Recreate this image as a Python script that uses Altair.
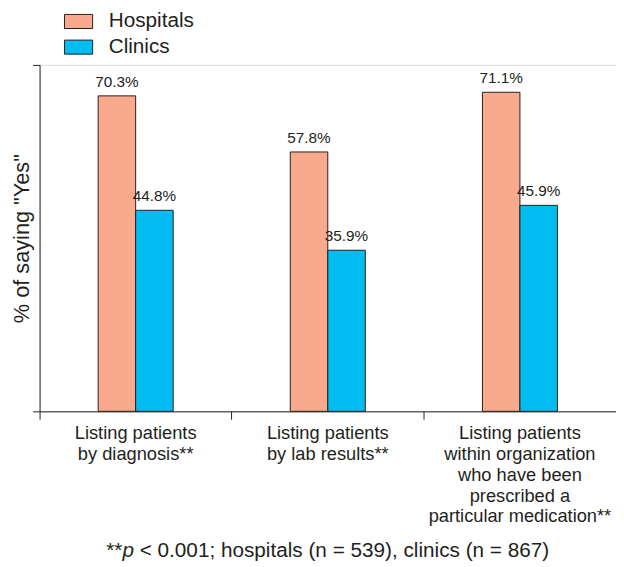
import altair as alt
import pandas as pd

categories = [
    "Listing patients|by diagnosis**",
    "Listing patients|by lab results**",
    "Listing patients|within organization|who have been|prescribed a|particular medication**",
]
series = ["Hospitals", "Clinics"]
hospitals = [70.3, 57.8, 71.1]
clinics = [44.8, 35.9, 45.9]
colors = ["#F9AA8D", "#00BCF1"]
foot_parts = ["**", "p", "< 0.001; hospitals (n = 539), clinics (n = 867)"]

rows = []
for i, c in enumerate(categories):
    rows.append({"cat": c, "group": "Hospitals", "value": hospitals[i]})
    rows.append({"cat": c, "group": "Clinics", "value": clinics[i]})
df = pd.DataFrame(rows)

W, H = 584, 351
YMAX = 77.2
INK = "#231f20"
FONT = "Liberation Sans"
BAR_W = 38
band = W / 3

x = alt.X(
    "cat:N",
    sort=categories,
    scale=alt.Scale(paddingInner=0, paddingOuter=0),
    axis=alt.Axis(
        title=None,
        labelExpr="split(datum.label, '|')",
        bandPosition=0,
        tickSize=8,
        labelFontSize=18.5,
        labelLineHeight=21,
        labelPadding=5,
        labelAngle=0,
        labelBaseline="top",
        labelLimit=0,
        labelColor=INK,
        domainColor=INK,
        tickColor=INK,
        labelFont=FONT,
    ),
)
xo = alt.XOffset(
    "group:N",
    sort=series,
    scale=alt.Scale(paddingInner=0, paddingOuter=0, range=[band / 2 - BAR_W, band / 2 + BAR_W]),
)
y = alt.Y(
    "value:Q",
    scale=alt.Scale(domain=[0, YMAX], nice=False, zero=True),
    axis=alt.Axis(
        values=[0, YMAX],
        labels=False,
        tickSize=7,
        grid=False,
        title='% of saying "Yes"',
        titleAngle=270,
        titleX=-11,
        titleY=H / 2,
        titleAlign="center",
        titleBaseline="alphabetic",
        titleFontSize=22,
        titleFontWeight="normal",
        titleFont=FONT,
        titleColor=INK,
        domainColor=INK,
        tickColor=INK,
    ),
)
color = alt.Color(
    "group:N",
    sort=series,
    scale=alt.Scale(domain=series, range=colors),
    legend=alt.Legend(
        title=None,
        orient="none",
        legendX=29,
        legendY=-54.5,
        direction="vertical",
        symbolType="M-2,-1H2V1H-2Z",
        symbolSize=203,
        symbolStrokeColor=INK,
        symbolStrokeWidth=1,
        labelFontSize=21,
        labelFont=FONT,
        labelColor=INK,
        labelOffset=20,
        rowPadding=4,
        padding=0,
    ),
)

base = alt.Chart(df)
bars = base.mark_bar(stroke=INK, strokeWidth=1).encode(x=x, xOffset=xo, y=y, color=color)
labels = base.transform_calculate(
    label="format(datum.value, '.1f') + '%'"
).mark_text(dy=-9, baseline="alphabetic", fontSize=15.5, font=FONT, color=INK).encode(
    x=x, xOffset=xo, y=y, text="label:N"
)

fw = 21
total = (0.778 + 0.556 + 20.038) * fw
start = W / 2 - total / 2
foot_y = 499
f1 = alt.Chart(pd.DataFrame({"t": [foot_parts[0]]})).mark_text(
    align="left", baseline="alphabetic", fontSize=fw, font=FONT, color=INK
).encode(x=alt.value(start), y=alt.value(foot_y), text="t:N")
f2 = alt.Chart(pd.DataFrame({"t": [foot_parts[1]]})).mark_text(
    align="left", baseline="alphabetic", fontSize=fw, font=FONT, color=INK, fontStyle="italic"
).encode(x=alt.value(start + 0.778 * fw), y=alt.value(foot_y), text="t:N")
f3 = alt.Chart(pd.DataFrame({"t": [foot_parts[2]]})).mark_text(
    align="left", baseline="alphabetic", fontSize=fw, font=FONT, color=INK
).encode(x=alt.value(start + (0.778 + 0.556 + 0.278) * fw), y=alt.value(foot_y), text="t:N")

chart = alt.layer(bars, labels, f1, f2, f3).properties(
    width=W,
    height=H,
    padding={"left": 32, "top": 54, "right": 0, "bottom": 150},
    autosize=alt.AutoSizeParams(type="none"),
).configure_view(stroke=None).configure(font=FONT)

chart.save("out.html", embed_options={"renderer": "svg", "actions": False})
